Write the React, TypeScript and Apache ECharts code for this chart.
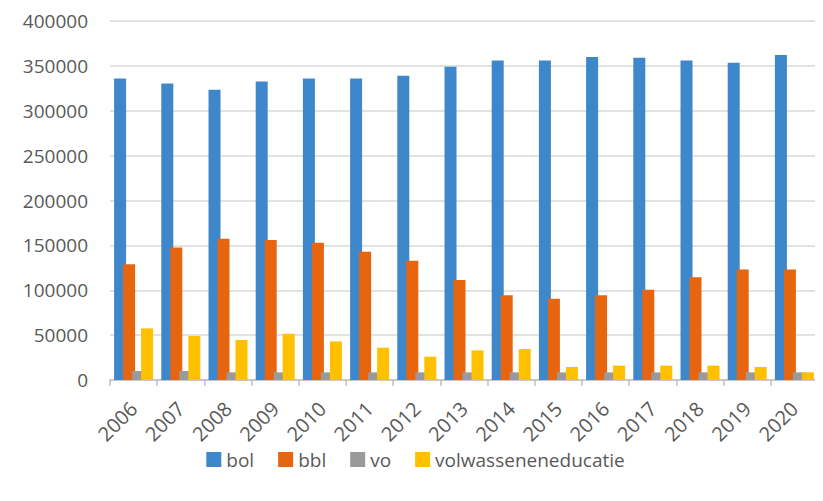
import React, { useEffect, useRef } from "react";
import * as echarts from "echarts";

const years = ["2006","2007","2008","2009","2010","2011","2012","2013","2014","2015","2016","2017","2018","2019","2020"];
const bol = [336000,330500,323500,332500,336000,336000,339000,349000,356000,356000,360000,359000,356000,353500,362000];
const bbl = [129000,147500,157500,156000,153000,143000,133000,111500,94500,90500,94500,100500,114500,123000,123000];
const vo = [10000,10000,8500,8500,8500,8500,8500,8500,8500,8500,8500,8500,8500,8500,8500];
const volwassenen = [57500,49000,44500,51500,43000,36000,26000,33000,34500,14500,16000,16000,16000,14500,8500];
const seriesNames = ["bol","bbl","vo","volwasseneneducatie"];
const colors = ["#3F87CB","#E8650F","#9A9A9A","#FFC000"];

export default function App() {
  const ref = useRef<HTMLDivElement>(null);
  useEffect(() => {
    const chart = echarts.init(ref.current!, null, { renderer: "svg" });
    const font = "'Open Sans', sans-serif";
    const data = [bol, bbl, vo, volwassenen];
    chart.setOption({
      animation: false,
      color: colors,
      grid: { left: 102, right: 5, top: 13, bottom: 113, containLabel: false },
      legend: {
        bottom: 19,
        left: "center",
        itemWidth: 15,
        itemHeight: 15,
        itemGap: 24,
        icon: "rect",
        textStyle: { fontFamily: font, fontSize: 19, color: "#595959" },
        data: seriesNames,
      },
      xAxis: {
        type: "category",
        data: years,
        axisLine: { lineStyle: { color: "#bfbfbf", width: 1.5 } },
        axisTick: { show: true, length: 6, lineStyle: { color: "#bfbfbf", width: 1.5 } },
        axisLabel: { rotate: 45, fontFamily: font, fontSize: 20, color: "#595959", margin: 25 },
      },
      yAxis: {
        type: "value",
        min: 0,
        max: 400000,
        interval: 50000,
        axisLine: { show: false },
        axisTick: { show: false },
        splitLine: { lineStyle: { color: "#d9d9d9", width: 1.5 } },
        axisLabel: {
          fontFamily: font,
          fontSize: 19,
          color: "#595959",
          margin: 22,
          formatter: (v: number) => String(v),
        },
      },
      series: seriesNames.map((name, i) => ({
        name,
        type: "bar",
        data: data[i],
        barWidth: 12,
        barGap: "-25%",
        itemStyle: { color: colors[i] },
      })),
    });
    return () => chart.dispose();
  }, []);
  return <div ref={ref} style={{ width: 815, height: 485 }} />;
}
